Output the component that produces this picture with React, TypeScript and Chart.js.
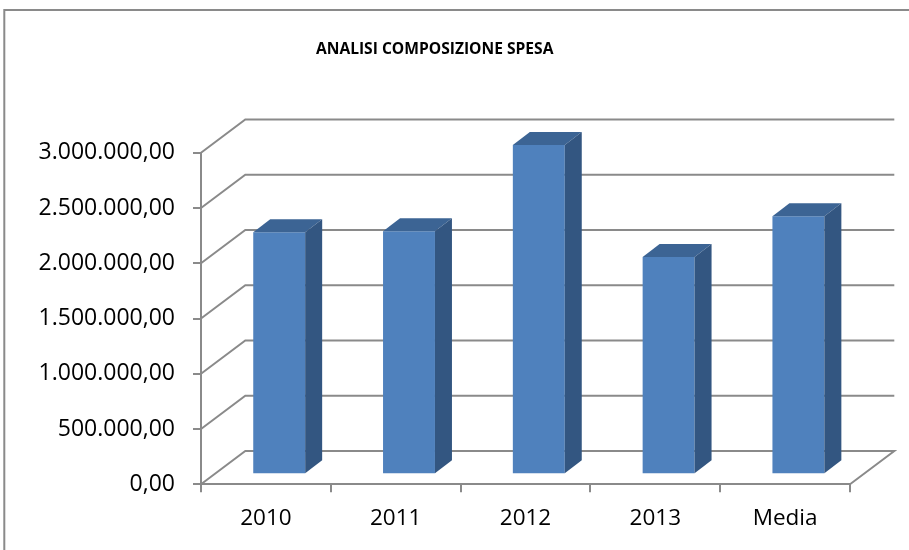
import React, { useEffect, useRef } from "react";
import { Chart, registerables } from "chart.js";

Chart.register(...registerables);

// ---- data ----
const categories = ["2010", "2011", "2012", "2013", "Media"];
const spesa = [2190000, 2200000, 2980000, 1967000, 2334000];
const yMin = 0;
const yMax = 3000000;
const yStep = 500000;
const chartTitle = "ANALISI COMPOSIZIONE SPESA";

// ---- style ----
const FONT = "'Open Sans', 'Liberation Sans', sans-serif";
const GRID = "#8a8a8a";
const FRONT = "#4f81bd";
const TOP = "#3c6494";
const SIDE = "#335681";
const WALL_DX = 44.3;
const WALL_DY = -33.3;
const BAR_DX = 13.3; // bar front offset from front plane
const BAR_DY = -10;
const DEPTH_DX = 17; // bar depth
const DEPTH_DY = -13;

function fmt(v: number): string {
  const s = Math.round(v)
    .toString()
    .replace(/\B(?=(\d{3})+(?!\d))/g, ".");
  return s + ",00";
}

const threeD = {
  id: "threeD",
  beforeDraw(chart: any) {
    const ctx = chart.ctx;
    ctx.save();
    ctx.strokeStyle = GRID;
    ctx.lineWidth = 2;
    ctx.beginPath();
    ctx.moveTo(4.3, 600);
    ctx.lineTo(4.3, 10);
    ctx.lineTo(960, 10);
    ctx.stroke();
    ctx.restore();
  },
  beforeDatasetsDraw(chart: any) {
    const ctx = chart.ctx;
    const ys = chart.scales.y;
    const area = chart.chartArea;
    ctx.save();
    ctx.strokeStyle = GRID;
    ctx.lineWidth = 2;
    ctx.lineCap = "butt";
    for (const t of ys.ticks) {
      const y = ys.getPixelForValue(t.value);
      ctx.beginPath();
      ctx.moveTo(area.left, y);
      ctx.lineTo(area.left + WALL_DX, y + WALL_DY);
      ctx.lineTo(area.right + WALL_DX, y + WALL_DY);
      if (t.value === yMin) {
        ctx.lineTo(area.right, y);
      }
      ctx.stroke();
    }
    ctx.restore();
    ctx.save();
    ctx.translate(BAR_DX, BAR_DY);
  },
  afterDatasetsDraw(chart: any) {
    const ctx = chart.ctx;
    const meta = chart.getDatasetMeta(0);
    for (const el of meta.data) {
      const p = el.getProps(["x", "y", "base", "width"], true);
      const l = p.x - p.width / 2;
      const r = p.x + p.width / 2;
      ctx.fillStyle = TOP;
      ctx.beginPath();
      ctx.moveTo(l, p.y);
      ctx.lineTo(r, p.y);
      ctx.lineTo(r + DEPTH_DX, p.y + DEPTH_DY);
      ctx.lineTo(l + DEPTH_DX, p.y + DEPTH_DY);
      ctx.closePath();
      ctx.fill();
      ctx.fillStyle = SIDE;
      ctx.beginPath();
      ctx.moveTo(r, p.y);
      ctx.lineTo(r + DEPTH_DX, p.y + DEPTH_DY);
      ctx.lineTo(r + DEPTH_DX, p.base + DEPTH_DY);
      ctx.lineTo(r, p.base);
      ctx.closePath();
      ctx.fill();
    }
    ctx.restore();
  },
};

export default function App() {
  const ref = useRef<HTMLCanvasElement | null>(null);
  useEffect(() => {
    if (!ref.current) return;
    const chart = new Chart(ref.current, {
      type: "bar",
      data: {
        labels: categories,
        datasets: [
          {
            label: "Spesa",
            data: spesa,
            backgroundColor: FRONT,
            borderWidth: 0,
            categoryPercentage: 1,
            barPercentage: 0.4,
          },
        ],
      },
      options: {
        animation: false,
        responsive: true,
        maintainAspectRatio: false,
        layout: { padding: { left: 19.4, right: 59, top: 0, bottom: 0 } },
        plugins: {
          legend: { display: false },
          tooltip: { enabled: false },
          title: {
            display: true,
            text: chartTitle,
            color: "#000",
            font: { family: FONT, size: 15.6, weight: "bold" },
            padding: { top: 40, bottom: 94 },
          },
        },
        scales: {
          x: {
            type: "category",
            offset: true,
            grid: {
              offset: true,
              drawOnChartArea: false,
              drawTicks: true,
              tickLength: 8,
              color: GRID,
              lineWidth: 2,
            },
            border: { display: true, color: GRID, width: 2 },
            ticks: {
              color: "#000",
              font: { family: FONT, size: 22.5 },
              padding: 13,
              maxRotation: 0,
            },
            afterFit: (s: any) => {
              s.height = 65.7;
            },
          },
          y: {
            min: yMin,
            max: yMax,
            grid: {
              drawOnChartArea: false,
              drawTicks: true,
              tickLength: 8,
              color: GRID,
              lineWidth: 2,
            },
            border: { display: true, color: GRID, width: 2 },
            ticks: {
              stepSize: yStep,
              color: "#000",
              font: { family: FONT, size: 23 },
              padding: 18,
              callback: (v: any) => fmt(Number(v)),
            },
            afterFit: (s: any) => {
              s.width = 181.6;
            },
          },
        },
      },
      plugins: [threeD],
    });
    return () => chart.destroy();
  }, []);
  return (
    <div style={{ position: "absolute", left: 0, top: 0, width: 909, height: 550, background: "#fff" }}>
      <canvas ref={ref} />
    </div>
  );
}
